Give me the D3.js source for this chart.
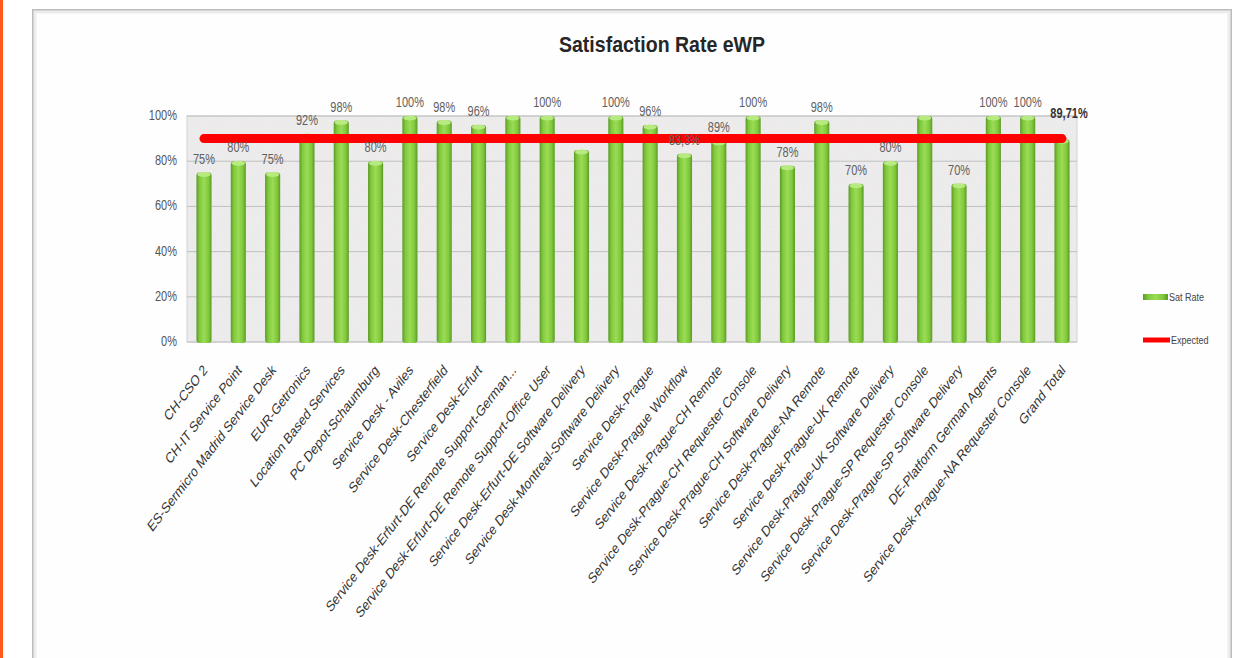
<!DOCTYPE html>
<html>
<head>
<meta charset="utf-8">
<script src="https://cdn.jsdelivr.net/npm/d3@7"></script>
<style>
  body { margin: 0; background: #fff; }
  svg { display: block; font-family: "Liberation Sans", Arial, sans-serif; }
</style>
</head>
<body>
<svg id="chart" width="1241" height="658"></svg>
<script>
const categories = [
    "CH-CSO 2",
    "CH-IT Service Point",
    "ES-Sermicro Madrid Service Desk",
    "EUR-Getronics",
    "Location Based Services",
    "PC Depot-Schaumburg",
    "Service Desk - Aviles",
    "Service Desk-Chesterfield",
    "Service Desk-Erfurt",
    "Service Desk-Erfurt-DE Remote Support-German...",
    "Service Desk-Erfurt-DE Remote Support-Office User",
    "Service Desk-Erfurt-DE Software Delivery",
    "Service Desk-Montreal-Software Delivery",
    "Service Desk-Prague",
    "Service Desk-Prague Workflow",
    "Service Desk-Prague-CH Remote",
    "Service Desk-Prague-CH Requester Console",
    "Service Desk-Prague-CH Software Delivery",
    "Service Desk-Prague-NA Remote",
    "Service Desk-Prague-UK Remote",
    "Service Desk-Prague-UK Software Delivery",
    "Service Desk-Prague-SP Requester Console",
    "Service Desk-Prague-SP Software Delivery",
    "DE-Platform German Agents",
    "Service Desk-Prague-NA Requester Console",
    "Grand Total"
];

const satRate = [75, 80, 75, 92, 98, 80, 100, 98, 96, 100, 100, 85, 100,
    96, 83.3, 89, 100, 78, 98, 70, 80, 100, 70, 100, 100, 89.71];

// labels as printed on the chart ("" where the chart shows none)
const rateLabels = ["75%", "80%", "75%", "92%", "98%", "80%", "100%", "98%", "96%",
    "", "100%", "", "100%", "96%", "83,3%", "89%", "100%", "78%", "98%", "70%",
    "80%", "", "70%", "100%", "100%", "89,71%"];

const expectedRate = 90;

const yTicks = [0, 20, 40, 60, 80, 100];
const yTickLabels = ["0%", "20%", "40%", "60%", "80%", "100%"];

const legendItems = ["Sat Rate", "Expected"];

// the source picture is stretched vertically, so text is too
const stretch = 1.3;

let svg = d3.select("#chart");
let defs = svg.append("defs");

let grad = defs.append("linearGradient").attr("id", "barGrad")
    .attr("x1", "0%").attr("x2", "100%").attr("y1", "0%").attr("y2", "0%");
[[0, "#5b9a27"], [0.2, "#80c83c"], [0.5, "#9bdc55"], [0.8, "#80c83c"], [1, "#5b9a27"]]
    .forEach(([o, c]) => grad.append("stop").attr("offset", o).attr("stop-color", c));

let noise = defs.append("filter").attr("id", "speckle")
    .attr("x", 0).attr("y", 0).attr("width", "100%").attr("height", "100%");
noise.append("feTurbulence").attr("type", "fractalNoise")
    .attr("baseFrequency", 0.9).attr("numOctaves", 1).attr("seed", 3);
noise.append("feColorMatrix").attr("type", "matrix")
    .attr("values", "0 0 0 0 0.75  0 0 0 0 0.7  0 0 0 0 0.7  0 0 0 -1.6 1.0");

// page decoration
svg.append("rect").attr("x", 0).attr("y", 0).attr("width", 3).attr("height", 658)
    .attr("fill", "#ff5a1c");
svg.append("rect").attr("x", 33).attr("y", 10).attr("width", 1198).attr("height", 670)
    .attr("fill", "#fefefe").attr("stroke", "#bcbcbc").attr("stroke-width", 2);
svg.append("rect").attr("x", 35).attr("y", 12).attr("width", 1194).attr("height", 666)
    .attr("fill", "none").attr("stroke", "#ececec").attr("stroke-width", 3);

const plot = { left: 187, right: 1077, top: 116, bottom: 342 };

let x = d3.scaleBand()
    .domain(categories)
    .range([plot.left, 1079])
    .paddingInner(0.56)
    .paddingOuter(0.275);

let y = d3.scaleLinear()
    .domain([0, 100])
    .range([plot.bottom, plot.top]);

// plot area
svg.append("rect")
    .attr("x", plot.left).attr("y", plot.top)
    .attr("width", plot.right - plot.left).attr("height", plot.bottom - plot.top)
    .attr("fill", "#eeeded").attr("stroke", "#d2d2d2");
svg.append("rect")
    .attr("x", plot.left).attr("y", plot.top)
    .attr("width", plot.right - plot.left).attr("height", plot.bottom - plot.top)
    .attr("filter", "url(#speckle)").attr("opacity", 0.5);

svg.append("g")
    .selectAll("line")
    .data(yTicks)
    .join("line")
    .attr("x1", plot.left).attr("x2", plot.right)
    .attr("y1", (d) => y(d)).attr("y2", (d) => y(d))
    .attr("stroke", "#c0c0c0").attr("stroke-width", 1);

// y axis labels
svg.append("g")
    .selectAll("text")
    .data(yTicks)
    .join("text")
    .attr("transform", (d) => `translate(177,${y(d) + 4}) scale(1,${stretch})`)
    .attr("text-anchor", "end")
    .attr("font-size", 11)
    .attr("fill", "#555")
    .text((d, i) => yTickLabels[i]);

// bars
let bars = svg.append("g")
    .selectAll("g")
    .data(categories)
    .join("g");

bars.append("rect")
    .attr("x", (d) => x(d))
    .attr("y", (d, i) => y(satRate[i]))
    .attr("width", x.bandwidth())
    .attr("height", (d, i) => plot.bottom - y(satRate[i]) + 1)
    .attr("rx", 3)
    .attr("fill", "url(#barGrad)");

bars.append("ellipse")
    .attr("cx", (d) => x(d) + x.bandwidth() / 2)
    .attr("cy", (d, i) => y(satRate[i]) + 2)
    .attr("rx", x.bandwidth() / 2 - 1)
    .attr("ry", 2.5)
    .attr("fill", "#b7ea80");

// expected line
let first = categories[0], last = categories[categories.length - 1];
svg.append("line")
    .attr("x1", x(first) + x.bandwidth() / 2)
    .attr("x2", x(last) + x.bandwidth() / 2)
    .attr("y1", y(expectedRate)).attr("y2", y(expectedRate))
    .attr("stroke", "#ff0000")
    .attr("stroke-width", 9)
    .attr("stroke-linecap", "round");

// data labels
svg.append("g")
    .selectAll("text")
    .data(categories)
    .join("text")
    .attr("transform", (d, i) => {
        let isTotal = i == categories.length - 1;
        let cx = x(d) + x.bandwidth() / 2 + (isTotal ? 7 : 0);
        let cy = y(satRate[i]) - (isTotal ? 21 : 9);
        return `translate(${cx},${cy}) scale(1,${stretch})`;
    })
    .attr("text-anchor", "middle")
    .attr("font-size", 11)
    .attr("font-weight", (d, i) => (i == categories.length - 1 ? "bold" : null))
    .attr("fill", (d, i) => (i == categories.length - 1 ? "#333" : "#606060"))
    .text((d, i) => rateLabels[i]);

// x axis labels
svg.append("g")
    .selectAll("text")
    .data(categories)
    .join("text")
    .attr("transform", (d) =>
        `translate(${x(d) + x.bandwidth() / 2 + 4},371) scale(1,${stretch}) rotate(-45)`)
    .attr("text-anchor", "end")
    .attr("font-size", 11.6)
    .attr("fill", "#333")
    .text((d) => d);

// title
svg.append("text")
    .attr("transform", `translate(662,52) scale(1,1.25)`)
    .attr("text-anchor", "middle")
    .attr("font-size", 18)
    .attr("font-weight", "bold")
    .attr("fill", "#262626")
    .attr("textLength", 206)
    .attr("lengthAdjust", "spacingAndGlyphs")
    .text("Satisfaction Rate eWP");

// legend
let legend = svg.append("g");
legend.append("rect")
    .attr("x", 1143).attr("y", 294).attr("width", 25).attr("height", 6)
    .attr("fill", "url(#barGrad)");
legend.append("line")
    .attr("x1", 1143).attr("x2", 1170).attr("y1", 340).attr("y2", 340)
    .attr("stroke", "#ff0000").attr("stroke-width", 5);
legend.selectAll("text")
    .data(legendItems)
    .join("text")
    .attr("transform", (d, i) => `translate(${i == 0 ? 1169 : 1171},${i == 0 ? 301 : 344}) scale(1,${stretch})`)
    .attr("font-size", 9)
    .attr("fill", "#444")
    .text((d) => d);
</script>
</body>
</html>
